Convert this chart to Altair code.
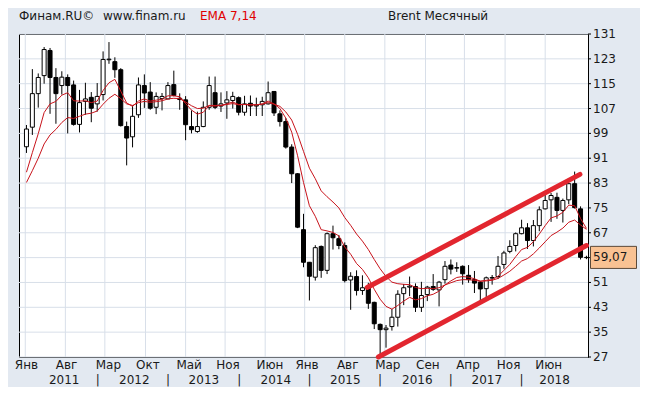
import altair as alt
import pandas as pd

# ---------------- data (Brent, monthly, Jan 2011 .. Dec 2018) ----------------
opens = [
    94.7, 101.0, 111.8, 117.6, 125.7, 117.0, 114.4, 117.0, 114.6, 101.9, 109.3, 110.6,
    108.5, 111.5, 122.7, 122.1, 119.5, 101.2, 97.9, 105.0, 114.4, 112.3, 107.4, 110.2,
    110.1, 114.7, 110.3, 109.8, 101.2, 99.6, 101.2, 107.4, 112.1, 107.8, 108.8, 109.6,
    110.5, 105.8, 108.7, 107.8, 108.2, 108.5, 112.5, 105.3, 102.8, 94.6, 86.0, 68.0,
    57.5, 52.7, 62.6, 54.9, 66.7, 65.1, 62.9, 51.8, 52.9, 48.4, 49.2, 44.6,
    37.5, 35.8, 36.8, 39.8, 47.4, 49.5, 49.7, 43.0, 47.1, 49.7, 48.6, 51.9,
    56.6, 55.6, 56.2, 53.3, 51.9, 51.1, 49.0, 52.4, 52.9, 56.8, 61.0, 62.9,
    66.7, 68.6, 64.5, 69.3, 74.7, 77.6, 78.4, 74.2, 77.6, 82.8, 74.7, 59.0]
highs = [
    101.7, 119.7, 118.3, 126.8, 126.5, 120.0, 119.0, 118.0, 116.0, 113.0, 115.3, 112.3,
    115.2, 125.4, 128.4, 123.5, 120.0, 102.8, 108.0, 117.0, 118.0, 115.5, 112.2, 112.0,
    115.5, 119.2, 111.9, 111.0, 106.4, 106.0, 109.3, 117.3, 117.3, 112.2, 112.6, 112.4,
    110.9, 111.1, 111.2, 110.5, 110.8, 115.7, 112.6, 106.4, 103.9, 95.5, 86.2, 73.1,
    57.6, 63.0, 62.9, 67.1, 69.3, 66.3, 63.9, 54.3, 54.9, 53.3, 50.9, 44.8,
    37.8, 37.3, 42.5, 48.5, 50.5, 52.9, 50.7, 51.2, 49.9, 53.7, 51.5, 57.9,
    58.4, 57.5, 56.5, 56.6, 54.7, 51.5, 52.9, 53.4, 59.5, 61.2, 64.6, 67.1,
    71.2, 70.1, 71.1, 75.5, 80.5, 79.8, 79.9, 78.0, 83.0, 86.7, 75.5, 59.6]
lows = [
    92.7, 98.5, 107.3, 115.0, 105.3, 102.1, 111.5, 99.0, 101.5, 99.3, 105.0, 102.6,
    106.0, 109.6, 121.4, 116.9, 101.2, 88.7, 94.5, 104.0, 107.2, 106.6, 105.2, 106.4,
    110.0, 110.9, 106.6, 96.8, 99.0, 99.2, 101.0, 106.6, 106.8, 105.9, 103.7, 107.0,
    104.8, 104.7, 104.6, 104.6, 104.6, 108.3, 104.6, 101.2, 94.1, 83.0, 68.5, 55.9,
    45.2, 51.6, 52.5, 53.7, 61.6, 61.7, 51.0, 42.2, 46.8, 47.0, 42.5, 36.0,
    27.1, 30.0, 35.5, 36.8, 43.7, 46.6, 41.5, 41.5, 45.0, 48.3, 43.3, 50.6,
    53.6, 54.4, 50.3, 50.9, 47.6, 45.0, 46.1, 50.3, 52.1, 55.4, 60.4, 61.0,
    66.5, 61.8, 62.6, 67.5, 74.5, 70.5, 71.5, 70.3, 76.2, 74.8, 58.4, 58.5]
closes = [
    100.4, 111.8, 117.0, 126.0, 117.0, 111.8, 117.1, 114.4, 101.9, 108.9, 110.1, 107.1,
    110.9, 122.8, 122.9, 119.5, 101.5, 97.5, 104.5, 114.6, 112.0, 107.1, 110.9, 110.9,
    114.4, 111.2, 109.9, 101.8, 100.2, 101.2, 107.4, 114.4, 107.4, 108.5, 109.8, 110.9,
    105.8, 108.5, 107.8, 108.1, 109.3, 112.1, 105.6, 102.8, 94.6, 86.0, 68.8, 57.5,
    53.0, 62.2, 54.9, 66.7, 65.4, 62.9, 51.6, 53.0, 48.4, 49.3, 44.3, 37.7,
    35.8, 36.3, 39.8, 47.2, 49.3, 49.8, 43.0, 46.8, 49.5, 48.8, 51.1, 56.2,
    55.3, 55.8, 53.8, 51.9, 50.8, 48.9, 52.5, 52.6, 56.2, 60.5, 62.6, 66.7,
    68.6, 64.5, 69.3, 74.4, 77.4, 79.0, 74.2, 77.4, 82.8, 75.1, 59.1, 59.07]
ema7 = [
    86.5, 92.8, 98.9, 105.7, 108.5, 109.3, 111.3, 112.1, 109.5, 109.4, 109.5, 108.9,
    109.4, 112.8, 115.3, 116.4, 112.6, 108.8, 107.7, 109.4, 110.1, 109.4, 109.7, 110.0,
    111.1, 111.1, 110.8, 108.6, 106.5, 105.2, 105.8, 107.9, 107.8, 108.0, 108.5, 109.1,
    108.3, 108.3, 108.2, 108.2, 108.5, 109.4, 108.5, 107.0, 103.9, 99.4, 91.8, 83.2,
    75.7, 72.3, 68.0, 67.6, 67.1, 66.0, 62.4, 60.1, 57.1, 55.2, 52.5, 48.8,
    45.6, 43.3, 42.4, 43.6, 45.0, 46.2, 45.4, 45.8, 46.7, 47.2, 48.2, 50.2,
    51.5, 52.6, 52.9, 52.7, 52.2, 51.4, 51.7, 51.9, 53.0, 54.9, 56.8, 59.3,
    61.6, 62.3, 64.1, 66.6, 69.3, 71.8, 72.4, 73.6, 75.9, 75.7, 71.6, 68.4]
ema14 = [
    83.2, 87.0, 91.0, 95.6, 98.5, 100.3, 102.5, 104.1, 103.8, 104.5, 105.2, 105.5,
    106.2, 108.4, 110.3, 111.6, 110.2, 108.5, 108.0, 108.9, 109.3, 109.0, 109.2, 109.5,
    110.1, 110.3, 110.2, 109.1, 107.9, 107.0, 107.1, 108.0, 108.0, 108.0, 108.3, 108.6,
    108.2, 108.3, 108.2, 108.2, 108.4, 108.9, 108.4, 107.7, 105.9, 103.3, 98.7, 93.2,
    87.8, 84.4, 80.5, 78.6, 76.9, 75.0, 71.9, 69.4, 66.6, 64.3, 61.6, 58.4,
    55.4, 52.9, 51.1, 50.6, 50.4, 50.3, 49.4, 49.0, 49.1, 49.0, 49.3, 50.2,
    50.9, 51.6, 51.9, 51.9, 51.7, 51.4, 51.5, 51.7, 52.3, 53.4, 54.6, 56.2,
    57.9, 58.7, 60.2, 62.1, 64.1, 66.1, 67.2, 68.5, 70.4, 71.1, 69.5, 68.1]

# axis text
y_ticks = [27, 35, 43, 51, 59, 67, 75, 83, 91, 99, 107, 115, 123, 131]
y_tick_labels = ["27", "35", "43", "51", "", "67", "75", "83", "91", "99",
                 "107", "115", "123", "131"]   # 59 is hidden under the price box
grid_x = [-0.2, 6.6, 13.3, 20.2, 27.0, 33.7, 40.5, 47.2, 54.0, 60.8, 67.7, 74.3, 81.2, 88.0]
month_labels = ["Янв", "Авг", "Мар", "Окт", "Май", "Ноя", "Июн",
                "Янв", "Авг", "Мар", "Сен", "Апр", "Ноя", "Июн"]
month_pos = [0.0, 6.8, 13.9, 20.6, 27.6, 34.2, 41.3, 47.6, 54.5, 61.3, 68.1, 74.9, 81.8, 88.6]
year_labels = ["2011", "2012", "2013", "2014", "2015", "2016", "2017", "2018"]
year_pos = [6.4, 18.3, 30.1, 42.3, 54.1, 66.3, 78.1, 89.6]
sep_pos = [12.1, 24.0, 36.1, 48.0, 60.0, 72.0, 84.0]

# trend channel end points (month index, price)
chan_x1 = [57.8, 59.7]
chan_y1 = [49.4, 27.0]
chan_x2 = [93.9, 95.0]
chan_y2 = [85.8, 62.9]

last_price = 59.07
last_label = "59,07"

# ---------------- styling ----------------
BG = "#e3e9f1"
GRID = "#d8dfe9"
FONT = "DejaVu Sans"
TXT = "#1a1a1a"
EMA_COLOR = "#c8141c"
CHAN_COLOR = "#e2262f"
W, H = 569, 323

n = len(closes)
df = pd.DataFrame({"i": list(range(n)), "o": opens, "h": highs, "l": lows,
                   "c": closes, "e7": ema7, "e14": ema14})

xs = alt.Scale(domain=[-0.41667, 94.41667], nice=False, zero=False)
ys = alt.Scale(domain=[27, 131], nice=False, zero=False)

vgrid = alt.Chart(pd.DataFrame({"g": grid_x})).mark_rule(
    color=GRID, strokeWidth=1).encode(x=alt.X("g:Q", scale=xs, axis=None))

ytick_df = pd.DataFrame({"v": y_ticks, "t": y_tick_labels})
hgrid = alt.Chart(ytick_df).mark_rule(color=GRID, strokeWidth=1).encode(
    y=alt.Y("v:Q", scale=ys, axis=None))
yticks = alt.Chart(ytick_df).mark_rule(color="black", strokeWidth=1).encode(
    y=alt.Y("v:Q", scale=ys, axis=None), x=alt.value(W), x2=alt.value(W + 3))
ylabels = alt.Chart(ytick_df).mark_text(align="left", baseline="middle", font=FONT,
                                        fontSize=12, color=TXT).encode(
    y=alt.Y("v:Q", scale=ys, axis=None), x=alt.value(W + 5), text="t:N")

wicks = alt.Chart(df).mark_rule(color="black", strokeWidth=1, clip=True).encode(
    x=alt.X("i:Q", scale=xs, axis=None),
    y=alt.Y("l:Q", scale=ys, axis=None),
    y2="h:Q")

bodies = alt.Chart(df).mark_bar(size=4, stroke="black", strokeWidth=1, clip=True).encode(
    x=alt.X("i:Q", scale=xs, axis=None),
    y=alt.Y("o:Q", scale=ys, axis=None),
    y2="c:Q",
    fill=alt.condition("datum.c < datum.o", alt.value("black"), alt.value("white")))

line7 = alt.Chart(df).mark_line(color=EMA_COLOR, strokeWidth=1, clip=True).encode(
    x=alt.X("i:Q", scale=xs, axis=None), y=alt.Y("e7:Q", scale=ys, axis=None))
line14 = alt.Chart(df).mark_line(color=EMA_COLOR, strokeWidth=1, clip=True).encode(
    x=alt.X("i:Q", scale=xs, axis=None), y=alt.Y("e14:Q", scale=ys, axis=None))

chan_df = pd.DataFrame({"x1": chan_x1, "y1": chan_y1, "x2": chan_x2, "y2": chan_y2})
channel = alt.Chart(chan_df).mark_rule(color=CHAN_COLOR, strokeWidth=5, strokeCap="round").encode(
    x=alt.X("x1:Q", scale=xs, axis=None), y=alt.Y("y1:Q", scale=ys, axis=None),
    x2="x2:Q", y2="y2:Q")

price_df = pd.DataFrame({"p": [last_price], "top": [last_price + 3.55],
                         "bot": [last_price - 3.55], "t": [last_label]})
price_box = alt.Chart(price_df).mark_rect(fill="#f9c293", stroke="#5a4a3a", strokeWidth=1).encode(
    x=alt.value(W + 2.5), x2=alt.value(W + 48.5),
    y=alt.Y("top:Q", scale=ys, axis=None), y2="bot:Q")
price_txt = alt.Chart(price_df).mark_text(align="left", baseline="middle", font=FONT,
                                          fontSize=12, color=TXT).encode(
    x=alt.value(W + 5), y=alt.Y("p:Q", scale=ys, axis=None), text="t:N")

mon_txt = alt.Chart(pd.DataFrame({"x": month_pos, "t": month_labels})).mark_text(
    align="center", baseline="middle", font=FONT, fontSize=12, color=TXT).encode(
    x=alt.X("x:Q", scale=xs, axis=None), y=alt.value(331), text="t:N")
yr_txt = alt.Chart(pd.DataFrame({"x": year_pos, "t": year_labels})).mark_text(
    align="center", baseline="middle", font=FONT, fontSize=12, color=TXT).encode(
    x=alt.X("x:Q", scale=xs, axis=None), y=alt.value(346), text="t:N")
sep_txt = alt.Chart(pd.DataFrame({"x": sep_pos, "t": ["|"] * len(sep_pos)})).mark_text(
    align="center", baseline="middle", font=FONT, fontSize=12, color=TXT).encode(
    x=alt.X("x:Q", scale=xs, axis=None), y=alt.value(346), text="t:N")

hdr = pd.DataFrame({"x": [0, 84, 181, 369],
                    "t": ["Финам.RU©", "www.finam.ru", "EMA 7,14", "Brent Месячный"],
                    "c": [TXT, TXT, "#e00000", TXT]})
hdr_txt = alt.Chart(hdr).mark_text(align="left", baseline="middle", font=FONT,
                                   fontSize=12).encode(
    x=alt.X("x:Q", scale=None, axis=None), y=alt.value(-18), text="t:N",
    color=alt.Color("c:N", scale=None))

chart = alt.layer(
    vgrid, hgrid, wicks, bodies, line7, line14, channel, yticks, ylabels,
    price_box, price_txt, mon_txt, yr_txt, sep_txt, hdr_txt
).properties(
    width=W, height=H,
    padding={"left": 11, "top": 26, "right": 52, "bottom": 30},
    autosize=alt.AutoSizeParams(type="none"),
    background=BG,
).configure_view(fill="white", stroke="black", strokeWidth=1)

chart.save("out.html", embed_options={"renderer": "svg", "actions": False})
